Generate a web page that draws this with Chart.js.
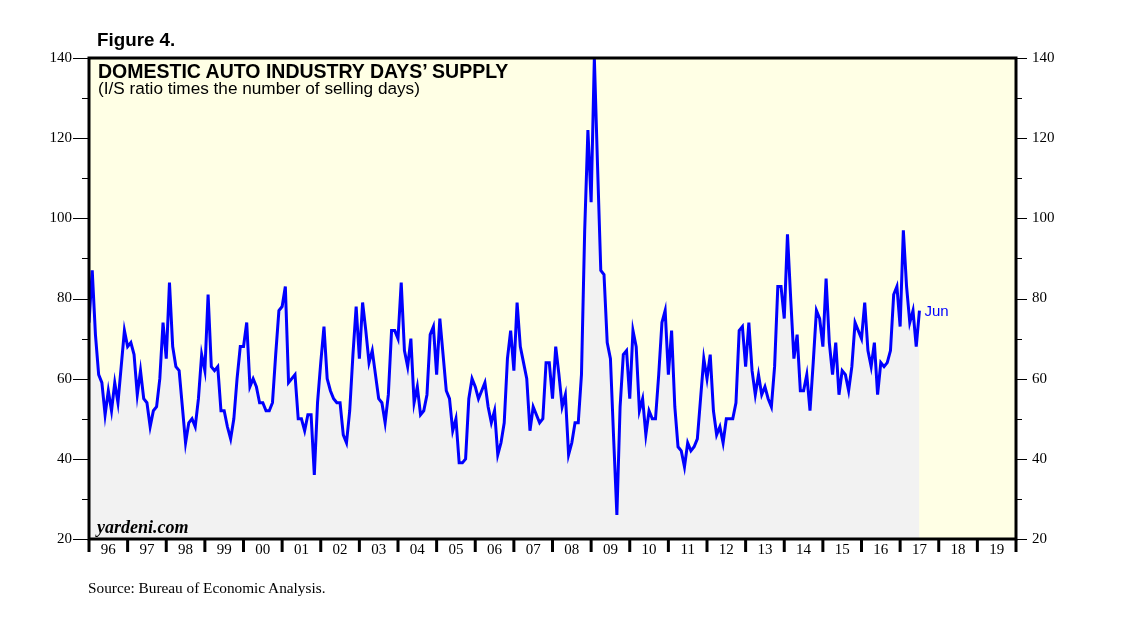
<!DOCTYPE html>
<html>
<head>
<meta charset="utf-8">
<title>Domestic Auto Industry Days' Supply</title>
<script src="https://cdn.jsdelivr.net/npm/chart.js@4.4.1/dist/chart.umd.min.js"></script>
<style>
  body { margin: 0; background: #fff; }
  #wrap { position: relative; width: 1138px; height: 625px; overflow: hidden; }
  #wrap canvas { position: absolute; left: 0; top: 0; }
  .txt { position: absolute; white-space: nowrap; line-height: 1; color: #000; }
  .sans { font-family: "Liberation Sans", Arial, sans-serif; }
  .serif { font-family: "Liberation Serif", "Times New Roman", serif; }
</style>
</head>
<body>
<div id="wrap">
  <canvas id="supplyChart" width="1138" height="625"></canvas>
  <div class="txt sans" style="left:97px; top:31px; font-size:18.8px; font-weight:bold;">Figure 4.</div>
  <div class="txt sans" style="left:98px; top:62px; font-size:19.5px; font-weight:bold;">DOMESTIC AUTO INDUSTRY DAYS’ SUPPLY</div>
  <div class="txt sans" style="left:98px; top:80px; font-size:17.2px;">(I/S ratio times the number of selling days)</div>
  <div class="txt serif" style="left:97px; top:518px; font-size:18px; font-weight:bold; font-style:italic;">yardeni.com</div>
  <div class="txt serif" style="left:88px; top:580px; font-size:15.3px;">Source: Bureau of Economic Analysis.</div>
  <div id="lastLabel" class="txt sans" style="font-size:15px; color:#0000ff;"></div>
</div>
<script>
// monthly values, first point = Dec 1995 (plotted at month end)
const startYear = 1995;
const startMonth = 12;
const supply = [
  74, 87, 71, 61, 59, 51, 57, 52, 59, 54, 63, 72,
  68, 69, 66, 56, 62, 55, 54, 48, 52, 53, 60, 74,
  65, 84, 68, 63, 62, 53, 44, 49, 50, 48, 55, 66,
  62, 81, 63, 62, 63, 52, 52, 48, 45, 50, 60, 68,
  68, 74, 58, 60, 58, 54, 54, 52, 52, 54, 66, 77,
  78, 83, 59, 60, 61, 50, 50, 47, 51, 51, 36, 54,
  64, 73, 60, 57, 55, 54, 54, 46, 44, 52, 66, 78,
  65, 79, 72, 64, 67, 61, 55, 54, 49, 56, 72, 72,
  70, 84, 67, 63, 70, 54, 58, 51, 52, 56, 71, 73,
  61, 75, 66, 57, 55, 47, 50, 39, 39, 40, 55, 60,
  58, 55, 57, 59, 53, 49, 52, 41, 44, 49, 65, 72,
  62, 79, 68, 64, 60, 47, 53, 51, 49, 50, 64, 64,
  55, 68, 61, 53, 56, 41, 44, 49, 49, 61, 97, 122,
  104, 140, 113, 87, 86, 69, 65, 45, 26, 53, 66, 67,
  55, 72, 68, 52, 55, 46, 52, 50, 50, 61, 74, 77,
  61, 72, 53, 43, 42, 38, 44, 42, 43, 45, 55, 65,
  60, 66, 52, 46, 48, 44, 50, 50, 50, 54, 72, 73,
  63, 74, 62, 56, 61, 56, 58, 55, 53, 63, 83, 83,
  75, 96, 80, 65, 71, 57, 57, 61, 52, 64, 77, 75,
  68, 85, 69, 61, 69, 56, 62, 61, 57, 63, 74, 72,
  70, 79, 67, 63, 69, 56, 64, 63, 64, 67, 81, 83,
  73, 97, 83, 74, 77, 68, 77
];
const yearLabels = ['96', '97', '98', '99', '00', '01', '02', '03', '04', '05', '06', '07',
  '08', '09', '10', '11', '12', '13', '14', '15', '16', '17', '18', '19'];
const monthNames = ['Jan', 'Feb', 'Mar', 'Apr', 'May', 'Jun', 'Jul', 'Aug', 'Sep', 'Oct', 'Nov', 'Dec'];
const yMin = 20, yMax = 140, yStep = 10, yLabelStep = 20;

// x value = months elapsed since 1 Jan 1996 at the end of each data month
const points = supply.map((v, i) => ({ x: i, y: v }));
const lastIndex = supply.length - 1;
const lastMonthName = monthNames[(startMonth - 1 + lastIndex) % 12];

const framePlugin = {
  id: 'frame',
  beforeDraw(chart) {
    const { ctx, chartArea: a } = chart;
    ctx.save();
    ctx.fillStyle = '#ffffe5';
    ctx.fillRect(a.left, a.top, a.right - a.left, a.bottom - a.top);
    ctx.restore();
  },
  afterDraw(chart) {
    const { ctx, chartArea: a } = chart;
    const xs = chart.scales.x, ys = chart.scales.y;
    ctx.save();
    ctx.strokeStyle = '#000';
    // y ticks, both sides
    ctx.lineWidth = 1.2;
    for (let v = yMin; v <= yMax; v += yStep) {
      const py = Math.round(ys.getPixelForValue(v)) + 0.5;
      const major = v % yLabelStep === 0;
      ctx.beginPath();
      ctx.moveTo(a.left, py);
      ctx.lineTo(a.left - (major ? 16 : 7), py);
      ctx.moveTo(a.right, py);
      ctx.lineTo(a.right + (major ? 11 : 6), py);
      ctx.stroke();
    }
    // year boundary ticks
    ctx.lineWidth = 3;
    for (let m = 0; m <= yearLabels.length * 12; m += 12) {
      const px = xs.getPixelForValue(m);
      ctx.beginPath();
      ctx.moveTo(px, a.bottom);
      ctx.lineTo(px, a.bottom + 13);
      ctx.stroke();
    }
    ctx.strokeRect(a.left, a.top, a.right - a.left, a.bottom - a.top);
    ctx.restore();

    const lbl = document.getElementById('lastLabel');
    lbl.textContent = lastMonthName;
    lbl.style.left = (xs.getPixelForValue(lastIndex) + 5) + 'px';
    lbl.style.top = (ys.getPixelForValue(supply[lastIndex]) - 8) + 'px';
  }
};

const tickFont = { family: '"Liberation Serif", "Times New Roman", serif', size: 15 };
const noGrid = { display: false, drawTicks: false, tickLength: 0 };

new Chart(document.getElementById('supplyChart'), {
  type: 'line',
  data: {
    datasets: [{
      label: 'Days supply',
      data: points,
      borderColor: '#0000ff',
      borderWidth: 3,
      backgroundColor: '#f2f2f2',
      fill: 'start',
      pointRadius: 0,
      tension: 0
    }]
  },
  options: {
    responsive: false,
    animation: false,
    devicePixelRatio: 1,
    layout: { padding: { top: 58, left: 0, right: 0, bottom: 0 } },
    plugins: { legend: { display: false }, tooltip: { enabled: false } },
    scales: {
      x: {
        type: 'linear',
        min: 0,
        max: yearLabels.length * 12,
        grid: noGrid,
        border: { display: false },
        afterBuildTicks: s => { s.ticks = yearLabels.map((_, i) => ({ value: i * 12 + 6 })); },
        afterFit: s => { s.height = 86; },
        ticks: {
          autoSkip: false,
          maxRotation: 0,
          padding: 2,
          color: '#000',
          font: tickFont,
          callback: v => yearLabels[(v - 6) / 12]
        }
      },
      y: {
        position: 'left',
        min: yMin,
        max: yMax,
        grid: noGrid,
        border: { display: false },
        afterFit: s => { s.width = 89; },
        ticks: {
          stepSize: yStep,
          padding: 17,
          color: '#000',
          font: tickFont,
          callback: v => (v % yLabelStep === 0 ? v : '')
        }
      },
      y2: {
        position: 'right',
        display: true,
        min: yMin,
        max: yMax,
        grid: noGrid,
        border: { display: false },
        afterFit: s => { s.width = 122; },
        ticks: {
          stepSize: yStep,
          padding: 16,
          color: '#000',
          font: tickFont,
          callback: v => (v % yLabelStep === 0 ? v : '')
        }
      }
    }
  },
  plugins: [framePlugin]
});
</script>
</body>
</html>
